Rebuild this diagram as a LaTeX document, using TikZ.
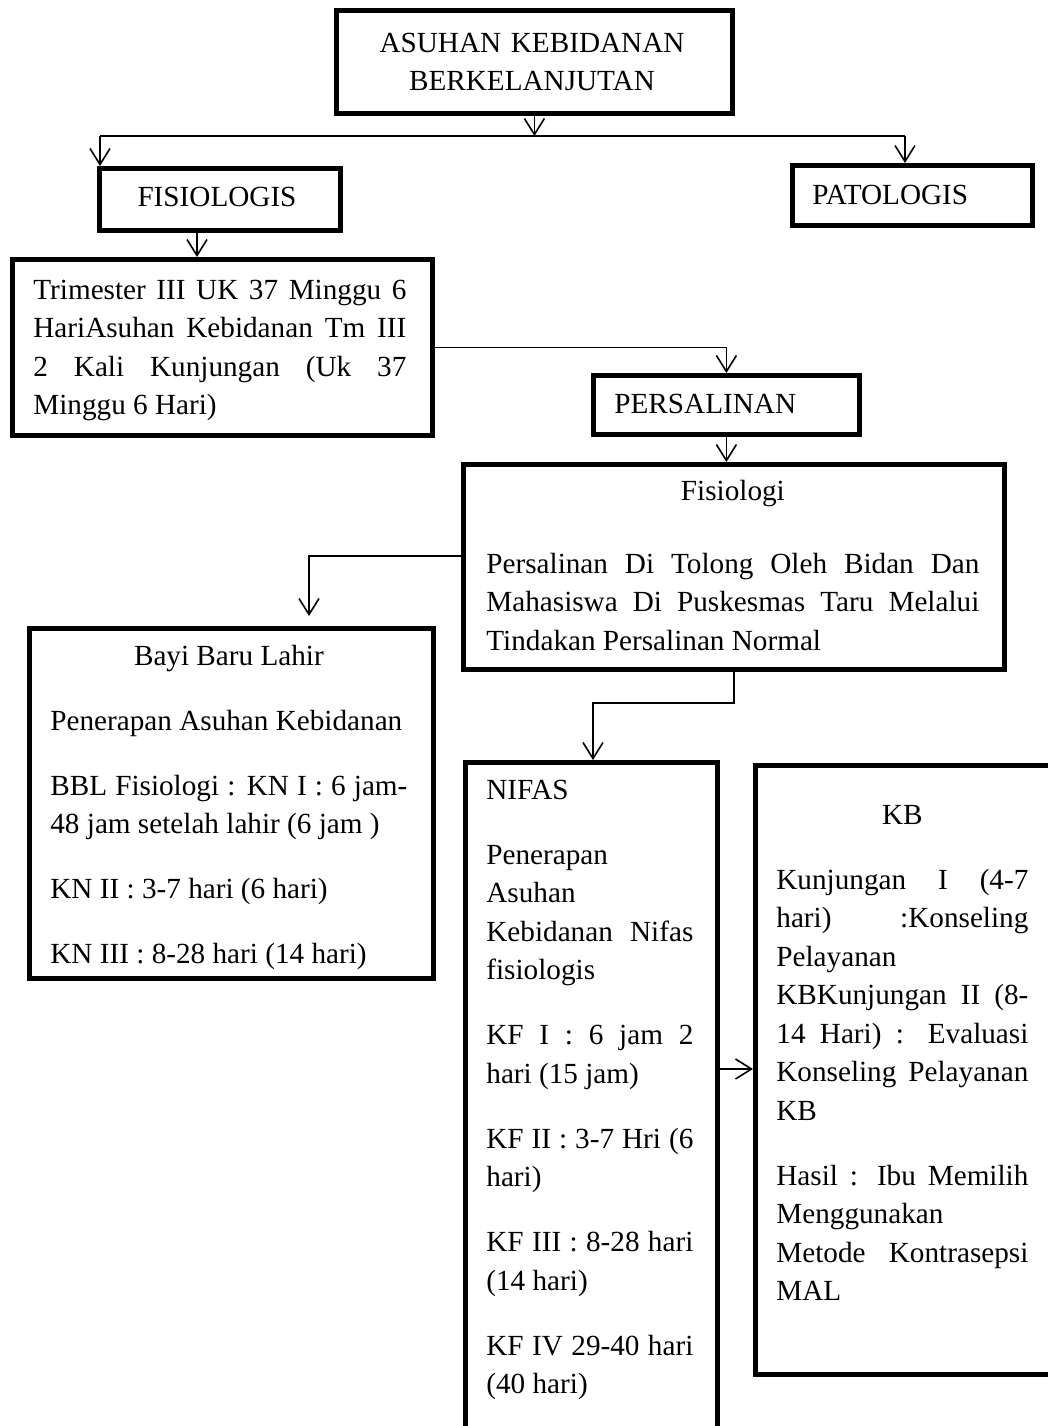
\documentclass[tikz,border=0pt]{standalone}
\usepackage{fontspec}
\setmainfont{Liberation Serif}
\usetikzlibrary{arrows.meta,calc}
\tolerance=10000
\hbadness=10000
\hyphenpenalty=10000
\begin{document}
\begin{tikzpicture}[x=0.5pt,y=-0.5pt,
  box/.style={draw, line width=2.4pt, rectangle, inner sep=0pt, anchor=north west},
  txt/.style={inner sep=0pt, anchor=base west, font=\fontsize{14.6}{19.25}\selectfont},
  para/.style={txt, align=justify, text width=#1},
  conn/.style={line width=0.8pt},
  arr/.style={conn, -{Straight Barb[length=8pt,width=10pt,line width=0.8pt]}}]
\path[use as bounding box] (0,0) rectangle (1048,1426);
\clip (0,0) rectangle (1048,1426);

% boxes
\node[box, minimum width=198pt, minimum height=51.5pt] (top) at (334,8) {};
\node[box, minimum width=120.5pt, minimum height=31pt] (fis) at (97,166) {};
\node[box, minimum width=120pt, minimum height=30pt] (pat) at (790,163) {};
\node[box, minimum width=210pt, minimum height=88pt] (tri) at (10,257) {};
\node[box, minimum width=133pt, minimum height=29.5pt] (pers) at (591,373) {};
\node[box, minimum width=270.5pt, minimum height=102.5pt] (fisio) at (461,462) {};
\node[box, minimum width=202pt, minimum height=175pt] (bayi) at (27,626) {};
\node[box, minimum width=126pt, minimum height=350pt] (nifas) at (463,760) {};
\node[box, minimum width=160pt, minimum height=304.5pt] (kb) at (753,763) {};

% texts
\node[txt, anchor=base, align=center, text width=195pt] (ttop) at (532,52) {ASUHAN KEBIDANAN\\BERKELANJUTAN};
\node[txt, anchor=base] (tfis) at (217,206) {FISIOLOGIS};
\node[txt] (tpat) at (812,204) {PATOLOGIS};
\node[txt] (tpers) at (614,413) {PERSALINAN};
\node[para=186.5pt] (ttri) at (33,299) {Trimester III UK 37 Minggu 6\linebreak HariAsuhan Kebidanan Tm III\linebreak 2 Kali Kunjungan (Uk 37\linebreak Minggu 6 Hari)};
\node[para=246.5pt] (tfisio) at (486,500) {\setlength{\parskip}{17.25pt}\makebox[\linewidth]{Fisiologi}\par Persalinan Di Tolong Oleh Bidan Dan\linebreak Mahasiswa Di Puskesmas Taru Melalui\linebreak Tindakan Persalinan Normal};
\node[para=178.5pt] (tbayi) at (50,665) {\setlength{\parskip}{13.25pt}\makebox[\linewidth]{Bayi Baru Lahir}\par Penerapan Asuhan Kebidanan\par BBL Fisiologi : KN I : 6 jam-\linebreak 48 jam setelah lahir (6 jam )\par KN II : 3-7 hari (6 hari)\par KN III : 8-28 hari (14 hari)};
\node[para=103.5pt] (tnifas) at (486,799) {\setlength{\parskip}{13.25pt}NIFAS\par Penerapan\linebreak Asuhan\linebreak Kebidanan Nifas\linebreak fisiologis\par KF I : 6 jam 2\linebreak hari (15 jam)\par KF II : 3-7 Hri (6\linebreak hari)\par KF III : 8-28 hari\linebreak (14 hari)\par KF IV 29-40 hari\linebreak (40 hari)};
\node[para=126pt] (tkb) at (776,824) {\setlength{\parskip}{13.25pt}\makebox[\linewidth]{KB}\par Kunjungan I (4-7\linebreak hari) :Konseling\linebreak Pelayanan\linebreak KBKunjungan II (8-\linebreak 14 Hari) : Evaluasi\linebreak Konseling Pelayanan\linebreak KB\par Hasil : Ibu Memilih\linebreak Menggunakan\linebreak Metode Kontrasepsi\linebreak MAL};

% connectors
\coordinate (hl) at (100,136);
\coordinate (hr) at (905,136);
\coordinate (bt) at (309,616);
\coordinate (elbow) at (593,703);
\draw[conn] (hl) -- (hr);
\draw[arr] (top.south) -- (top.south |- hl);
\draw[arr] (hl) -- (hl |- fis.north);
\draw[arr] (hr) -- (hr |- pat.north);
\draw[arr] ([xshift=50pt]fis.south west) -- ([xshift=50pt]fis.south west |- tri.north);
\draw[arr] (tri.east) -| (pers.north);
\draw[arr] (pers.south) -- (pers.south |- fisio.north);
\draw[arr] (fisio.west |- 0,556) -| (bt);
\draw[arr] (fisio.south) |- (elbow) -- (elbow |- nifas.north);
\draw[arr] (nifas.east |- 0,1069) -- (kb.west |- 0,1069);
\end{tikzpicture}
\end{document}
